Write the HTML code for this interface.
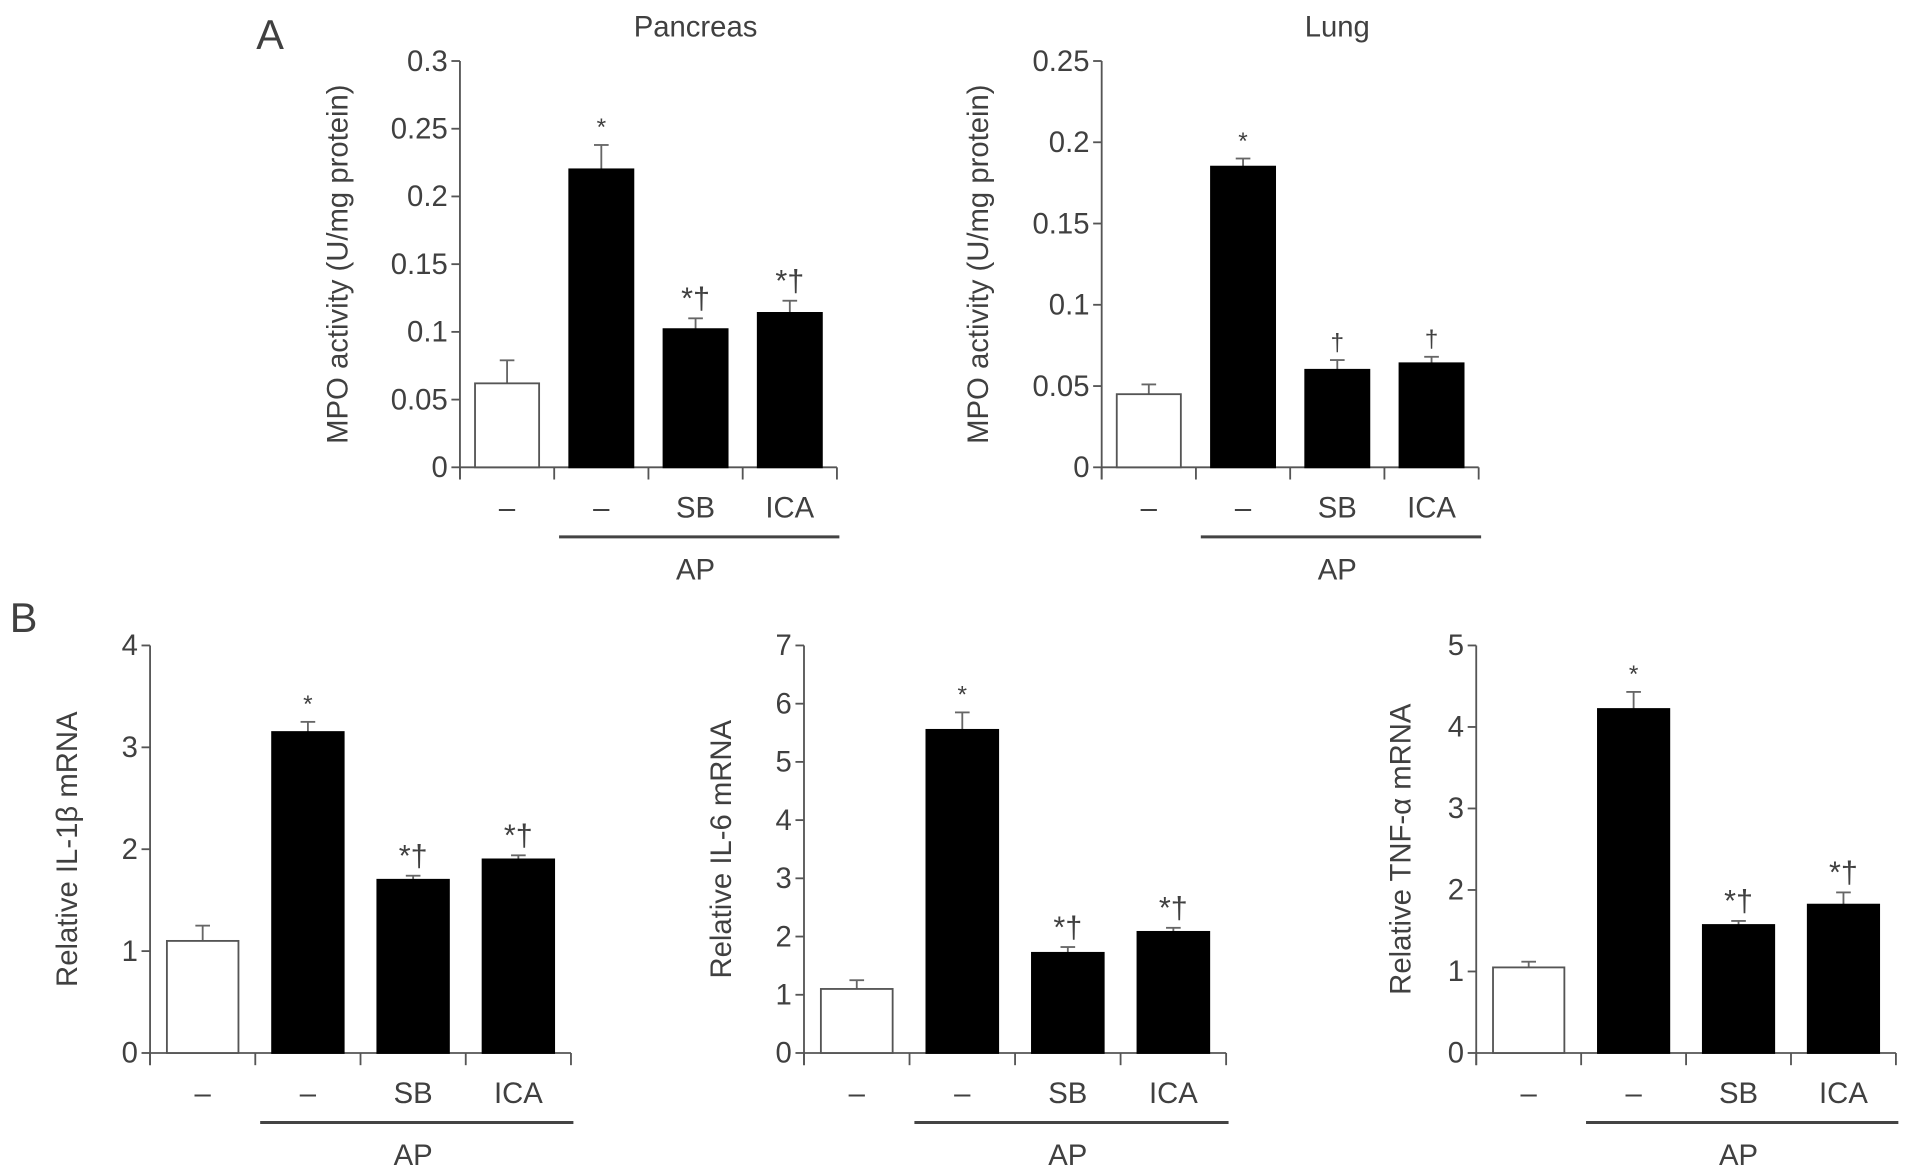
<!DOCTYPE html>
<html><head><meta charset="utf-8"><style>
html,body{margin:0;padding:0;background:#fff;}
svg{display:block;}
text{font-family:"Liberation Sans",sans-serif;fill:#404040;}
</style></head>
<body>
<svg id="fig" width="1913" height="1175" viewBox="0 0 1568 963" preserveAspectRatio="none" xmlns="http://www.w3.org/2000/svg">
<text x="210" y="40" font-size="34">A</text>
<text x="8" y="518" font-size="34">B</text>
</svg>
<script>
const categories = ["–","–","SB","ICA"];
const pancreasValues = [0.062,0.22,0.102,0.114];
const pancreasErrors = [0.017,0.018,0.008,0.009];
const pancreasTicks = ["0","0.05","0.1","0.15","0.2","0.25","0.3"];
const pancreasAnn = ["","*","*†","*†"];
const lungValues = [0.045,0.185,0.06,0.064];
const lungErrors = [0.006,0.005,0.006,0.004];
const lungTicks = ["0","0.05","0.1","0.15","0.2","0.25"];
const lungAnn = ["","*","†","†"];
const il1bValues = [1.1,3.15,1.7,1.9];
const il1bErrors = [0.15,0.1,0.04,0.04];
const il1bTicks = ["0","1","2","3","4"];
const il6Values = [1.1,5.55,1.72,2.08];
const il6Errors = [0.15,0.3,0.1,0.07];
const il6Ticks = ["0","1","2","3","4","5","6","7"];
const tnfValues = [1.05,4.22,1.57,1.82];
const tnfErrors = [0.07,0.21,0.05,0.15];
const tnfTicks = ["0","1","2","3","4","5"];
const bAnn = ["","*","*†","*†"];

const NS="http://www.w3.org/2000/svg";
const svg=document.getElementById('fig');
function mk(tag,attrs,parent){const e=document.createElementNS(NS,tag);for(const k in attrs)e.setAttribute(k,attrs[k]);(parent||svg).appendChild(e);return e;}

function chart(o){
  const g=mk('g',{});
  
  
  const ticks=o.ticks.map(Number);
  const ymax=ticks[ticks.length-1];
  const y=v=>o.y0-(v/ymax)*(o.y0-o.yTop);
  const stroke='#555';
  const ya=mk('line',{x1:o.ax,y1:o.yTop,x2:o.ax,y2:o.y0+10,stroke:stroke,'stroke-width':1.5},g);
  
  
  o.ticks.forEach((t,i)=>{
    const yy=y(ticks[i]);
    mk('line',{x1:o.ax-7,y1:yy,x2:o.ax,y2:yy,stroke:stroke,'stroke-width':1.5},g);
    const tx=mk('text',{x:o.ax-10,y:yy+8,'font-size':24,'text-anchor':'end'},g);
    tx.textContent=t;
    
    
  });
  const xa=mk('line',{x1:o.ax,y1:o.y0,x2:o.axEnd,y2:o.y0,stroke:stroke,'stroke-width':1.5},g);
  
  
  const step=(o.axEnd-o.ax)/categories.length;
  for(let i=0;i<=categories.length;i++){
    const xx=o.ax+i*step;
    mk('line',{x1:xx,y1:o.y0,x2:xx,y2:o.y0+10,stroke:stroke,'stroke-width':1.5},g);
  }
  const bw=step*0.68;
  o.values.forEach((v,i)=>{
    const cx=o.ax+(i+0.5)*step;
    const top=y(v), et=y(v+o.errors[i]);
    const el=mk('line',{x1:cx,y1:top,x2:cx,y2:et,stroke:'#666','stroke-width':1.5},g);
    
    
    mk('line',{x1:cx-6,y1:et,x2:cx+6,y2:et,stroke:'#666','stroke-width':1.5},g);
    const r=mk('rect',{x:cx-bw/2,y:top,width:bw,height:o.y0-top,fill:i===0?'#fff':'#000',stroke:i===0?'#555':'#000','stroke-width':1.5},g);
    
    
    if(o.ann[i]){
      const a=mk('text',{x:cx,y:et-8,'font-size':o.ann[i].length>1?25:20,'text-anchor':'middle'},g);
      a.textContent=o.ann[i];
      
      
    }
    const cl=mk('text',{x:cx,y:o.y0+41,'font-size':24,'text-anchor':'middle'},g);
    cl.textContent=categories[i];
    
    
  });
  const apl=mk('line',{x1:o.ax+step+4,y1:o.y0+57,x2:o.axEnd+2,y2:o.y0+57,stroke:'#444','stroke-width':2.5},g);
  
  
  const apt=mk('text',{x:o.ax+step*2.5,y:o.y0+92,'font-size':24,'text-anchor':'middle'},g);
  apt.textContent='AP';
  
  
  const yt=mk('text',{x:0,y:0,'font-size':24,'text-anchor':'middle',transform:`translate(${o.titleX},${(o.y0+o.yTop)/2}) rotate(-90)`},g);
  yt.textContent=o.ytitle;
  
  
  if(o.title){
    const tt=mk('text',{x:o.ax+step*2.5,y:30,'font-size':24,'text-anchor':'middle'},g);
    tt.textContent=o.title;
    
    
  }
}
chart({name:'pancreas-chart',ax:377,axEnd:686,yTop:50,y0:383,ticks:pancreasTicks,values:pancreasValues,errors:pancreasErrors,ann:pancreasAnn,ytitle:'MPO activity (U/mg protein)',titleX:285,title:'Pancreas'});
chart({name:'lung-chart',ax:903,axEnd:1212,yTop:50,y0:383,ticks:lungTicks,values:lungValues,errors:lungErrors,ann:lungAnn,ytitle:'MPO activity (U/mg protein)',titleX:810,title:'Lung'});
chart({name:'il1b-chart',ax:123,axEnd:468,yTop:529,y0:863,ticks:il1bTicks,values:il1bValues,errors:il1bErrors,ann:bAnn,ytitle:'Relative IL-1β mRNA',titleX:63});
chart({name:'il6-chart',ax:659,axEnd:1005,yTop:529,y0:863,ticks:il6Ticks,values:il6Values,errors:il6Errors,ann:bAnn,ytitle:'Relative IL-6 mRNA',titleX:599});
chart({name:'tnf-chart',ax:1210,axEnd:1554,yTop:529,y0:863,ticks:tnfTicks,values:tnfValues,errors:tnfErrors,ann:bAnn,ytitle:'Relative TNF-α mRNA',titleX:1156});
</script>
</body></html>
